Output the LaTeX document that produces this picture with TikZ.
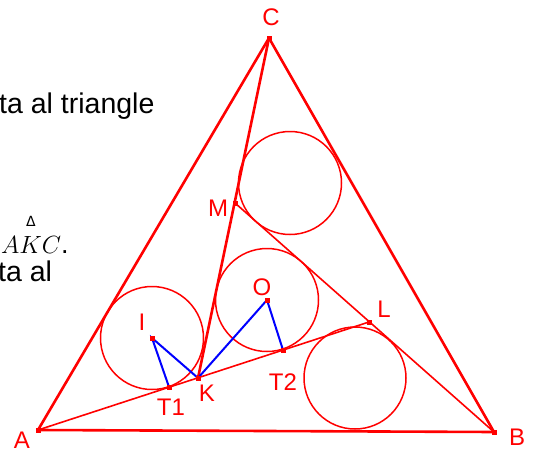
\documentclass[tikz,border=0pt]{standalone}
\usepackage{fontspec}
\setmainfont{Liberation Sans}
\newfontfamily\deltafont{DejaVu Sans}
\usetikzlibrary{positioning}

\begin{document}
\begin{tikzpicture}[x=1pt, y=-1pt,
  trisides/.style={draw=red, line width=2.6pt},
  tangline/.style={draw=red, line width=1.6pt},
  incirc/.style={draw=red, line width=1.5pt},
  bluseg/.style={draw=blue, line width=2pt},
  ptmark/.style={fill=red, rectangle, minimum size=5pt, inner sep=0pt},
  ptlabel/.style={text=red, font=\fontsize{24}{28}\selectfont, inner sep=0pt},
  sidetext/.style={font=\fontsize{28.5}{32}\selectfont, inner sep=0pt, anchor=base west}]
\useasboundingbox (0,0) rectangle (536,450);
% points
\coordinate (A) at (38,430);
\coordinate (B) at (494,432);
\coordinate (C) at (269,38);
\coordinate (M) at (235,203);
\coordinate (L) at (369,322);
\coordinate (K) at (198,378);
\coordinate (T1) at (169,387);
\coordinate (T2) at (283,350);
\coordinate (I) at (152,338);
\coordinate (O) at (267,300);
% text on the left
\node[sidetext] (tri) at (-1,113) {ta al triangle};
\node[sidetext, font=\fontsize{27}{32}\selectfont] (akc) at (1,253) {$AKC$.};
\node[inner sep=0pt, font=\deltafont\fontsize{14}{16}\selectfont] (delt) at (31,221) {Δ};
\node[sidetext] (taal) at (-2,281) {ta al};
% circles
\draw[incirc] (I) circle [radius=51.5];
\draw[incirc] (O) circle [radius=51.5];
\draw[incirc] (290,183) circle [radius=51.5];
\draw[incirc] (355,378) circle [radius=51];
% lines
\draw[trisides] (A) -- (C);
\draw[trisides] (C) -- (B);
\draw[trisides] (B) -- (A);
\draw[trisides] (C) -- (K);
\draw[tangline] (A) -- (L);
\draw[tangline] (M) -- (B);
\draw[bluseg] (T1) -- (I) -- (K) -- (O) -- (T2);
% markers
\foreach \p in {A,B,C,M,L,K,T1,T2,I,O}
  \node[ptmark] (m\p) at (\p) {};
% labels
\node[ptlabel] (labA) at (22,440) {A};
\node[ptlabel] (labB) at (517,437) {B};
\node[ptlabel] (labC) at (271,17) {C};
\node[ptlabel] (labM) at (218,208) {M};
\node[ptlabel] (labL) at (384,309) {L};
\node[ptlabel] (labK) at (207,393) {K};
\node[ptlabel] (labT1) at (171,407) {T1};
\node[ptlabel] (labT2) at (283,382) {T2};
\node[ptlabel] (labI) at (142,322) {I};
\node[ptlabel] (labO) at (262,287) {O};
\end{tikzpicture}
\end{document}
